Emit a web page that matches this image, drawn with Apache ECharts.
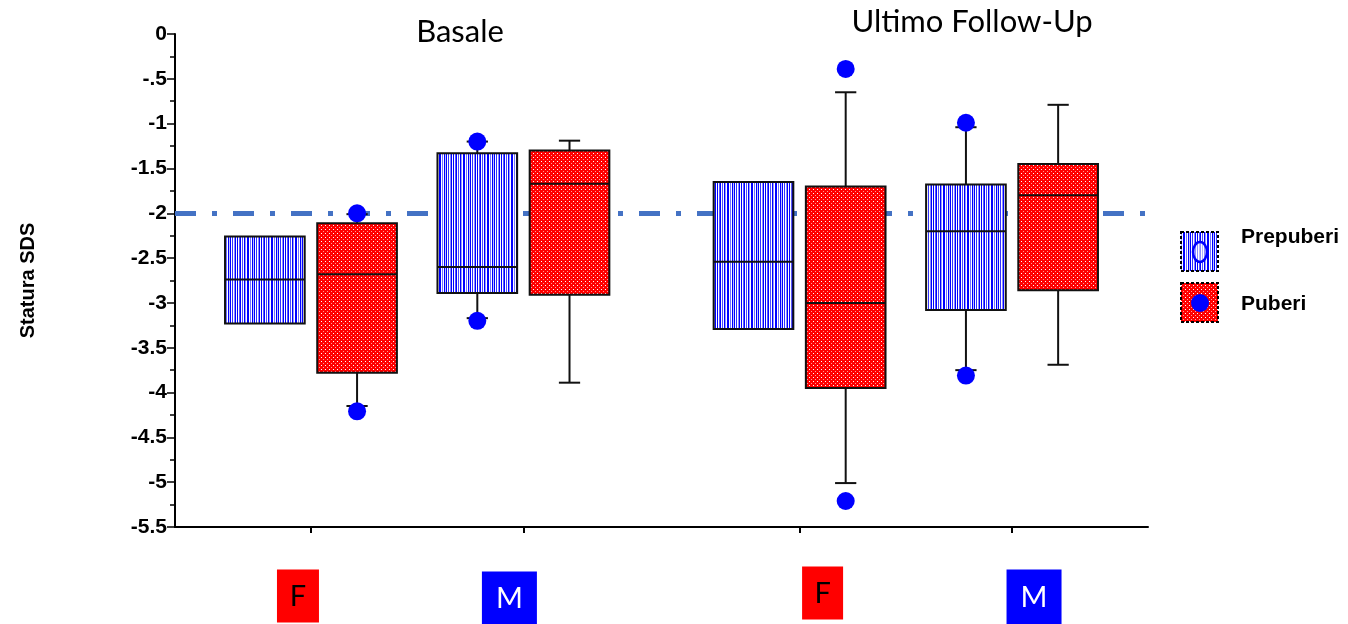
<!DOCTYPE html>
<html>
<head>
<meta charset="utf-8">
<script src="https://cdn.jsdelivr.net/npm/echarts@6/dist/echarts.min.js"></script>
<style>
  html, body { margin: 0; padding: 0; background: #ffffff; }
  #chart { width: 1348px; height: 624px; }
</style>
</head>
<body>
<div id="chart"></div>
<script>
// ---- data ----
const phases = ['Basale', 'Ultimo Follow-Up'];
const sexes = ['F', 'M', 'F', 'M'];
// position of each sex group along the (hidden) x scale
const groupPos = [0.64, 1.64, 2.94, 3.94];
const cohorts = ['Prepuberi', 'Puberi'];

// [lower whisker, Q1, median, Q3, upper whisker] per group (null = no whisker)
const prepuberi = [
  [null,  -3.23, -2.74, -2.26, null],
  [-3.17, -2.89, -2.60, -1.33, -1.20],
  [null,  -3.29, -2.54, -1.65, null],
  [-3.75, -3.08, -2.20, -1.68, -1.04]
];
const puberi = [
  [-4.15, -3.78, -2.68, -2.11, -2.01],
  [-3.89, -2.91, -1.67, -1.30, -1.19],
  [-5.01, -3.95, -3.00, -1.70, -0.65],
  [-3.69, -2.86, -1.80, -1.45, -0.79]
];
// single points beyond the whiskers: [group index, value]
const prepuberiDots = [[1, -1.20], [1, -3.20], [3, -0.99], [3, -3.81]];
const puberiDots = [[0, -2.00], [0, -4.21], [2, -0.39], [2, -5.21]];

const refValue = -2;
const yTickLabels = ['-5.5', '-5', '-4.5', '-4', '-3.5', '-3', '-2.5', '-2', '-1.5', '-1', '-.5', '0'];
const yMin = -5.5, yMax = 0, yStep = 0.5;

// ---- layout ----
const boxOffset = 0.217;   // distance of each box centre from the group centre
const boxWidth = 0.375;
const capWidth = 0.10;
const AX_FONT = '"Liberation Sans", Arial, sans-serif';
const SOFT_FONT = 'Lato, "Open Sans", sans-serif';

// ---- fill patterns ----
function stripeCanvas() {
  const cols = ['#0000ff', '#ffffff', '#4d4dff', '#ffffff', '#0000ff', '#9999ff', '#ffffff', '#0000ff',
                '#0000ff', '#ffffff', '#7373ff', '#ffffff', '#0000ff', '#c0c0ff', '#0000ff', '#ffffff',
                '#3333ff', '#ffffff', '#8c8cff', '#0000ff', '#ffffff', '#0000ff', '#ffffff', '#5959ff'];
  const c = document.createElement('canvas');
  c.width = cols.length; c.height = 4;
  const ctx = c.getContext('2d');
  cols.forEach((col, i) => { ctx.fillStyle = col; ctx.fillRect(i, 0, 1, 4); });
  return c;
}
function dotCanvas() {
  const c = document.createElement('canvas');
  c.width = 8; c.height = 8;
  const ctx = c.getContext('2d');
  ctx.fillStyle = '#ff0000'; ctx.fillRect(0, 0, 8, 8);
  ctx.fillStyle = '#ffffff';
  [[1, 1], [5, 1], [1, 5], [5, 5]].forEach(p => ctx.fillRect(p[0], p[1], 1, 1));
  ctx.fillStyle = '#ff9a9a';
  [[3, 3], [7, 3], [3, 7], [7, 7]].forEach(p => ctx.fillRect(p[0], p[1], 1, 1));
  return c;
}
const stripeFill = { image: stripeCanvas(), repeat: 'repeat' };
const dotFill = { image: dotCanvas(), repeat: 'repeat' };

// ---- box drawing ----
function boxSeries(name, stats, side, fill) {
  return {
    name: name,
    type: 'custom',
    z: 10,
    data: stats.map((s, i) => [i, s[1], s[3]]),
    encode: { x: 0, y: [1, 2] },
    renderItem: function (params, api) {
      const s = stats[params.dataIndex];
      const cx = groupPos[params.dataIndex] + side * boxOffset;
      const px = api.coord([cx, 0])[0];
      const half = (api.coord([cx + boxWidth / 2, 0])[0] - api.coord([cx - boxWidth / 2, 0])[0]) / 2;
      const capHalf = (api.coord([cx + capWidth / 2, 0])[0] - px);
      const y = v => api.coord([cx, v])[1];
      const kids = [];
      const line = (x1, y1, x2, y2) => ({
        type: 'line',
        shape: { x1: x1, y1: y1, x2: x2, y2: y2 },
        style: { stroke: '#111111', lineWidth: 2 }
      });
      if (s[4] != null) {
        kids.push(line(px, y(s[3]), px, y(s[4])));
        kids.push(line(px - capHalf, y(s[4]), px + capHalf, y(s[4])));
      }
      if (s[0] != null) {
        kids.push(line(px, y(s[1]), px, y(s[0])));
        kids.push(line(px - capHalf, y(s[0]), px + capHalf, y(s[0])));
      }
      kids.push({
        type: 'rect',
        shape: { x: px - half, y: y(s[3]), width: half * 2, height: y(s[1]) - y(s[3]) },
        style: { fill: fill, stroke: '#111111', lineWidth: 2 }
      });
      kids.push(line(px - half, y(s[2]), px + half, y(s[2])));
      return { type: 'group', children: kids };
    }
  };
}

function dotSeries(name, dots, side) {
  return {
    name: name + ' punti',
    type: 'scatter',
    z: 12,
    symbol: 'circle',
    symbolSize: 18,
    itemStyle: { color: '#0000ff', opacity: 1 },
    data: dots.map(d => [groupPos[d[0]] + side * boxOffset, d[1]])
  };
}

const chart = echarts.init(document.getElementById('chart'), null, { renderer: 'canvas' });

const option = {
  backgroundColor: '#ffffff',
  animation: false,
  grid: { left: 175, right: 200, top: 34, bottom: 97, containLabel: false },
  xAxis: {
    type: 'value',
    position: 'bottom',
    min: 0,
    max: 4.58,
    splitLine: { show: false },
    axisLine: { show: true, onZero: false, lineStyle: { color: '#000000', width: 2 } },
    axisTick: { show: true, customValues: groupPos, length: 6, inside: false,
                lineStyle: { color: '#000000', width: 2 } },
    axisLabel: { show: false }
  },
  yAxis: {
    type: 'value',
    min: yMin,
    max: yMax,
    interval: yStep,
    name: 'Statura SDS',
    nameLocation: 'middle',
    nameRotate: 90,
    nameGap: 137,
    nameTextStyle: { fontFamily: AX_FONT, fontWeight: 'bold', fontSize: 20, color: '#000000' },
    splitLine: { show: false },
    axisLine: { show: true, onZero: false, lineStyle: { color: '#000000', width: 2 } },
    axisTick: { show: true, length: 8, lineStyle: { color: '#000000', width: 1.5 } },
    minorTick: { show: true, splitNumber: 2, length: 5, lineStyle: { color: '#000000', width: 1.5 } },
    axisLabel: {
      margin: 8,
      fontFamily: AX_FONT,
      fontWeight: 'bold',
      fontSize: 21,
      color: '#000000',
      formatter: function (v) {
        const i = Math.round((v - yMin) / yStep);
        return yTickLabels[i] != null ? yTickLabels[i] : '';
      }
    }
  },
  series: [
    {
      name: 'riferimento',
      type: 'line',
      z: 1,
      data: [],
      markLine: {
        silent: true,
        symbol: ['none', 'none'],
        label: { show: false },
        lineStyle: { color: '#4472c4', width: 5, type: [21, 16, 5, 16] },
        data: [{ yAxis: refValue }]
      }
    },
    boxSeries(cohorts[0], prepuberi, -1, stripeFill),
    boxSeries(cohorts[1], puberi, 1, dotFill),
    dotSeries(cohorts[0], prepuberiDots, -1),
    dotSeries(cohorts[1], puberiDots, 1)
  ]
};
chart.setOption(option);

// ---- annotations: phase titles, sex badges, legend ----
const phaseTitlePos = [[460, 32], [972, 22]];
const badgeShift = [-13, -14, 23, 22];
const badgeSize = [[42, 53], [55, 53], [41, 53], [55, 55]];
const badgeY = [596, 598, 593, 597];
const badgeStyle = { F: { bg: '#ff0000', fg: '#000000' }, M: { bg: '#0000ff', fg: '#ffffff' } };

const graphics = [];
phases.forEach((p, i) => {
  graphics.push({
    type: 'text', x: phaseTitlePos[i][0], y: phaseTitlePos[i][1],
    style: { text: p, fontFamily: SOFT_FONT, fontSize: 31, fill: '#000000',
             align: 'center', verticalAlign: 'middle' }
  });
});
sexes.forEach((s, i) => {
  const cx = chart.convertToPixel({ xAxisIndex: 0 }, groupPos[i]) + badgeShift[i];
  const w = badgeSize[i][0], h = badgeSize[i][1];
  graphics.push({
    type: 'group', x: cx, y: badgeY[i],
    children: [
      { type: 'rect', shape: { x: -w / 2, y: -h / 2, width: w, height: h },
        style: { fill: badgeStyle[s].bg } },
      { type: 'text', x: 0, y: 1,
        style: { text: s, fontFamily: SOFT_FONT, fontSize: 29, fill: badgeStyle[s].fg,
                 align: 'center', verticalAlign: 'middle' } }
    ]
  });
});
// legend
const legendItems = [
  { name: cohorts[0], fill: stripeFill, y: 232, textY: 237, hollow: true },
  { name: cohorts[1], fill: dotFill, y: 283, textY: 304, hollow: false }
];
legendItems.forEach(it => {
  graphics.push({
    type: 'rect', shape: { x: 1181, y: it.y, width: 37, height: 39 },
    style: { fill: it.fill, stroke: '#000000', lineWidth: 2, lineDash: [3, 2] }
  });
  graphics.push(it.hollow
    ? { type: 'ellipse', shape: { cx: 1200, cy: it.y + 20, rx: 7, ry: 10 },
        style: { fill: 'rgba(255,255,255,0.55)', stroke: '#0000ff', lineWidth: 2.5 } }
    : { type: 'circle', shape: { cx: 1200, cy: it.y + 20, r: 9 },
        style: { fill: '#0000ff' } });
  graphics.push({
    type: 'text', x: 1241, y: it.textY,
    style: { text: it.name, fontFamily: AX_FONT, fontWeight: 'bold', fontSize: 21, fill: '#000000',
             align: 'left', verticalAlign: 'middle' }
  });
});
chart.setOption({ graphic: graphics });
</script>
</body>
</html>
